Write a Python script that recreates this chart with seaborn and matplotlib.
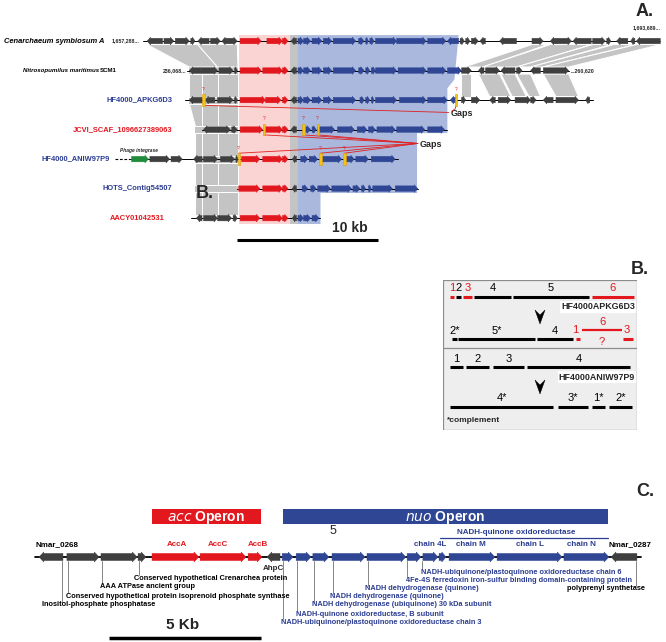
import matplotlib
matplotlib.use("Agg")
import matplotlib.pyplot as plt
from matplotlib.patches import Polygon, Rectangle
import seaborn as sns

# ---------------- panel A data (kb, one list per contig) ----------------
track_names = ["Cenarchaeum symbiosum A", "Nitrosopumilus maritimus", "HF4000_APKG6D3",
               "JCVI_SCAF_1096627389063", "HF4000_ANIW97P9", "HOTS_Contig54507", "AACY01042531"]
track_name_colors = ["k", "k", "b", "r", "b", "b", "r"]
track_spans = [(0.2, 36.9), (3.35, 30.4), (3.2, 32.1), (4.4, 21.8), (-0.7, 18.3), (6.9, 19.7), (3.6, 12.8)]

genes_cenarchaeum = [
    (0.5, 1.6, -1, "g"), (1.7, 2.4, 1, "g"), (2.5, 3.5, 1, "g"), (3.6, 3.9, 1, "g"),
    (4.1, 4.9, -1, "g"), (5.0, 5.7, 1, "g"), (5.8, 6.2, -1, "g"), (6.2, 6.9, 1, "g"),
    (7.1, 8.6, 1, "r"), (9.0, 10.1, 1, "r"), (10.1, 10.5, 1, "r"), (10.7, 11.1, -1, "g"),
    (11.2, 11.6, 1, "b"), (11.6, 12.1, 1, "b"), (12.2, 12.9, 1, "b"), (13.0, 13.6, 1, "b"),
    (13.7, 15.3, 1, "b"), (15.5, 15.9, 1, "b"), (16.0, 16.2, 1, "b"), (16.3, 16.6, 1, "b"),
    (16.7, 18.2, 1, "b"), (18.2, 20.3, 1, "b"), (20.4, 21.7, 1, "b"), (21.8, 22.6, -1, "b"),
    (22.7, 23.0, 1, "g"), (23.1, 23.4, 1, "g"), (23.5, 24.0, 1, "g"), (24.1, 24.5, -1, "g"),
    (25.5, 26.7, -1, "g"), (27.8, 28.6, 1, "g"), (29.1, 29.5, -1, "g"), (29.5, 30.6, 1, "g"),
    (30.7, 32.0, -1, "g"), (32.1, 33.0, 1, "g"), (33.1, 33.4, 1, "g"), (33.8, 34.6, -1, "g"),
    (34.8, 35.1, -1, "g"), (35.2, 36.9, -1, "g")]
genes_nitrosopumilus = [
    (3.5, 4.3, -1, "g"), (4.3, 5.5, 1, "g"), (5.6, 6.6, 1, "g"), (6.7, 6.9, 1, "g"),
    (7.1, 8.6, 1, "r"), (8.7, 10.1, 1, "r"), (10.1, 10.5, 1, "r"), (10.7, 11.1, -1, "g"),
    (11.2, 11.6, 1, "b"), (11.6, 12.1, 1, "b"), (12.2, 12.9, 1, "b"), (13.0, 13.6, 1, "b"),
    (13.7, 15.3, 1, "b"), (15.5, 15.9, 1, "b"), (16.0, 16.3, 1, "b"), (16.4, 16.7, 1, "b"),
    (16.7, 18.2, 1, "b"), (18.3, 20.3, 1, "b"), (20.4, 21.7, 1, "b"), (21.8, 22.8, 1, "b"),
    (22.8, 23.5, 1, "g"), (24.0, 24.4, -1, "g"), (24.5, 25.5, 1, "g"), (25.6, 26.6, -1, "g"),
    (26.7, 27.1, 1, "g"), (27.7, 28.4, -1, "g"), (28.6, 30.4, 1, "g")]
genes_apkg6d3 = [
    (3.5, 4.4, -1, "g"), (4.6, 5.3, -1, "g"), (5.5, 6.6, 1, "g"), (6.7, 6.9, 1, "g"),
    (7.1, 8.9, 1, "r"), (8.9, 10.0, 1, "r"), (10.1, 10.5, 1, "r"), (10.7, 11.1, -1, "g"),
    (11.2, 11.6, 1, "b"), (11.6, 12.1, 1, "b"), (12.2, 12.9, 1, "b"), (13.0, 13.6, 1, "b"),
    (13.7, 15.3, 1, "b"), (15.6, 15.9, 1, "b"), (16.0, 16.3, 1, "b"), (16.4, 16.6, 1, "b"),
    (16.7, 18.2, 1, "b"), (18.4, 20.3, 1, "b"), (20.4, 21.8, 1, "b"), (22.0, 22.4, -1, "b"),
    (22.8, 23.1, 1, "g"), (23.5, 24.1, 1, "g"), (24.8, 25.2, -1, "g"), (25.4, 26.3, 1, "g"),
    (26.6, 27.7, 1, "g"), (27.7, 28.1, 1, "g"), (28.6, 29.3, -1, "g"), (29.5, 31.1, 1, "g"),
    (31.6, 31.9, -1, "g")]
genes_jcvi = [
    (4.5, 5.4, -1, "g"), (5.4, 6.4, 1, "g"), (6.5, 6.9, 1, "g"),
    (7.1, 8.7, 1, "r"), (8.9, 10.1, 1, "r"), (10.1, 10.5, 1, "r"), (10.7, 11.1, -1, "g"),
    (11.6, 12.1, 1, "b"), (12.2, 12.5, 1, "b"), (12.6, 13.8, 1, "b"), (14.0, 15.2, 1, "b"),
    (15.4, 16.1, 1, "b"), (16.2, 16.7, 1, "b"), (16.8, 18.1, 1, "b"), (18.2, 20.2, 1, "b"),
    (20.4, 21.6, 1, "b")]
genes_aniw97p9 = [
    (-0.6, 0.6, 1, "p"), (0.7, 2.1, 1, "g"), (2.2, 3.0, 1, "g"), (3.8, 4.4, -1, "g"),
    (4.5, 5.5, 1, "g"), (5.7, 6.7, 1, "g"), (6.8, 6.95, 1, "g"),
    (7.2, 8.5, 1, "r"), (8.7, 10.1, 1, "r"), (10.1, 10.5, 1, "r"), (10.8, 11.1, -1, "g"),
    (11.4, 11.9, 1, "b"), (12.0, 12.6, 1, "b"), (12.9, 14.3, 1, "b"), (14.6, 15.2, 1, "b"),
    (15.3, 16.2, 1, "b"), (16.4, 18.1, 1, "b")]
genes_hots = [
    (7.0, 8.5, 1, "r"), (8.7, 10.1, 1, "r"), (10.1, 10.5, 1, "r"), (10.8, 11.1, -1, "g"),
    (11.5, 11.9, 1, "b"), (12.1, 12.5, 1, "b"), (12.6, 13.5, 1, "b"), (13.6, 15.0, 1, "b"),
    (15.1, 15.6, 1, "b"), (15.7, 16.0, 1, "b"), (16.2, 16.4, 1, "b"), (16.5, 17.9, 1, "b"),
    (18.1, 19.7, 1, "b")]
genes_aacy = [
    (4.0, 4.4, -1, "g"), (4.5, 5.5, 1, "g"), (5.5, 6.5, 1, "g"), (6.6, 6.9, 1, "g"),
    (7.1, 8.5, 1, "r"), (8.7, 10.1, 1, "r"), (10.1, 10.5, 1, "r"), (10.8, 11.1, -1, "g"),
    (11.2, 11.6, 1, "b"), (11.6, 12.1, 1, "b"), (12.2, 12.7, 1, "b")]
track_genes = [genes_cenarchaeum, genes_nitrosopumilus, genes_apkg6d3, genes_jcvi,
               genes_aniw97p9, genes_hots, genes_aacy]

# sequencing gaps (track, kb)
gap_sites = [(2, 4.5), (2, 22.4), (3, 8.8), (3, 11.6), (3, 12.6), (4, 7.0), (4, 12.8), (4, 14.5)]

# gray homology links: (top track, x1, x2, bottom track, x3, x4)
links = [
    (0, 0.5, 4.1, 1, 3.5, 5.5), (0, 4.1, 6.9, 1, 5.5, 6.95),
    (1, 3.5, 4.4, 2, 3.5, 4.4), (1, 4.4, 5.5, 2, 4.4, 5.5), (1, 5.5, 6.95, 2, 5.5, 6.95),
    (2, 3.5, 4.4, 3, 3.9, 4.4), (2, 4.4, 5.5, 3, 4.4, 5.5), (2, 5.5, 6.95, 3, 5.5, 6.95),
    (3, 3.9, 4.4, 4, 3.9, 4.4), (3, 4.4, 5.5, 4, 4.4, 5.5), (3, 5.5, 6.95, 4, 5.5, 6.95),
    (4, 3.9, 4.4, 5, 3.9, 4.4), (4, 4.4, 5.5, 5, 4.4, 5.5), (4, 5.5, 6.95, 5, 5.5, 6.95),
    (5, 3.9, 4.4, 6, 3.9, 4.4), (5, 4.4, 5.5, 6, 4.4, 5.5), (5, 5.5, 6.95, 6, 5.5, 6.95),
    (0, 27.8, 28.9, 1, 23.0, 24.3), (0, 29.1, 32.0, 1, 24.3, 26.7), (0, 32.1, 33.4, 1, 26.7, 27.7),
    (0, 33.6, 35.1, 1, 27.7, 28.6), (0, 35.2, 36.9, 1, 28.6, 30.4),
    (1, 22.8, 23.5, 2, 22.8, 23.5), (1, 24.0, 25.5, 2, 24.8, 26.3), (1, 25.6, 26.6, 2, 26.4, 27.4),
    (1, 26.7, 27.7, 2, 27.6, 28.4), (1, 28.6, 30.4, 2, 29.5, 31.1)]

acc_band = (7.0, 10.65)
mid_band = (10.65, 11.2)
nuo_outline = [(11.2, -0.2), (22.6, -0.2), (22.3, 1.3), (21.8, 1.6), (21.8, 3.12), (19.65, 3.12),
               (19.65, 5.15), (12.8, 5.15), (12.8, 6.2), (11.2, 6.2)]

# ---------------- panel B data ----------------
apkg_original = [("1", 7, 11, "r"), ("2", 13, 18, "k"), ("3", 20, 29, "r"),
                 ("4", 31, 68, "k"), ("5", 70, 146, "k"), ("6", 149, 191, "r")]
apkg_rearranged = [("2*", 9, 14, "k"), ("5*", 15, 92, "k"), ("4", 94, 130, "k"),
                   ("1", 133, 137, "r"), ("3", 180, 190, "r")]
apkg_unplaced = ("6", 139, 179)
aniw_original = [("1", 7, 20, "k"), ("2", 23, 46, "k"), ("3", 50, 81, "k"), ("4", 84, 187, "k")]
aniw_rearranged = [("4*", 7, 110, "k"), ("3*", 115, 145, "k"), ("1*", 149, 162, "k"), ("2*", 166, 189, "k")]

# ---------------- panel C data (kb) ----------------
region_genes = [
    (0.13, 0.92, -1, "g"), (1.05, 2.11, 1, "g"), (2.17, 3.36, 1, "g"), (3.39, 3.65, 1, "g"),
    (3.85, 5.39, 1, "r"), (5.43, 6.94, 1, "r"), (7.01, 7.47, 1, "r"), (7.63, 8.06, -1, "g"),
    (8.13, 8.49, 1, "b"), (8.59, 9.08, 1, "b"), (9.14, 9.67, 1, "b"), (9.77, 10.86, 1, "b"),
    (10.92, 12.20, 1, "b"), (12.24, 12.70, 1, "b"), (12.76, 13.26, 1, "b"), (13.29, 13.52, 1, "b"),
    (13.62, 15.13, 1, "b"), (15.20, 17.34, 1, "b"), (17.40, 18.88, 1, "b"), (18.95, 19.80, -1, "g")]
region_span = (0.0, 19.95)
operons = [("acc", 3.85, 7.43, "r"), ("nuo", 8.16, 18.85, "b")]
gene_names_above = [("Nmar_0268", 0.0, "k", "left"), ("AccA", 4.67, "r", "center"),
                    ("AccC", 6.02, "r", "center"), ("AccB", 7.34, "r", "center"),
                    ("chain 4L", 12.99, "b", "center"), ("chain M", 14.34, "b", "center"),
                    ("chain L", 16.28, "b", "center"), ("chain N", 17.96, "b", "center"),
                    ("Nmar_0287", 19.57, "k", "center")]
# (text, text x, row, leader x, colour, alignment)
gene_notes = [
    ("Conserved hypothetical Crenarchea protein", 3.26, 578, 3.42, "k", "left"),
    ("AAA ATPase ancient group", 2.14, 587, 2.19, "k", "left"),
    ("Conserved hypothetical protein isoprenoid phosphate synthase", 1.02, 596, 1.08, "k", "left"),
    ("Inositol-phosphate phosphatase", 0.23, 605, 0.90, "k", "left"),
    ("NADH-ubiquinone/plastoquinone oxidoreductase chain 6", 12.70, 572, 12.73, "b", "left"),
    ("4Fe-4S ferredoxin iron-sulfur binding domain-containing protein", 12.20, 581, 12.24, "b", "left"),
    ("polyprenyl synthetase", 20.07, 589, 19.77, "k", "right"),
    ("NADH dehydrogenase (quinone)", 10.86, 589, 10.95, "b", "left"),
    ("NADH dehydrogenase (quinone)", 9.70, 597, 9.80, "b", "left"),
    ("NADH dehydrogenase (ubiquinone) 30 kDa subunit", 9.11, 605, 9.17, "b", "left"),
    ("NADH-quinone oxidoreductase, B subunit", 8.59, 614, 8.62, "b", "left"),
    ("NADH-ubiquinone/plastoquinone oxidoreductase chain 3", 8.09, 622, 8.16, "b", "left")]

# ---------------- style ----------------
sns.set_theme(style="white")
plt.rcParams["font.family"] = ["Liberation Sans", "DejaVu Sans"]

COL = {"g": "#3f3f3f", "r": "#e3171e", "b": "#2f4694", "p": "#1f8b3b", "k": "black"}
TXT = {"k": "black", "r": "#e3171e", "b": "#2b3d91"}
PINK = "#fad3d3"
BLUE_BG = "#a9b8dc"
LINK = "#c4c4c4"


def draw_gene(ax, start, end, strand, y, h, head, color, z=3):
    hl = min(head, (end - start) * 0.6)
    hb = h * 0.72
    if strand > 0:
        pts = [(start, y - hb), (end - hl, y - hb), (end - hl, y - h), (end, y),
               (end - hl, y + h), (end - hl, y + hb), (start, y + hb)]
    else:
        pts = [(end, y - hb), (start + hl, y - hb), (start + hl, y - h), (start, y),
               (start + hl, y + h), (start + hl, y + hb), (end, y + hb)]
    ax.add_patch(Polygon(pts, closed=True, fc=color, ec=color, lw=0.3, zorder=z))


fig = plt.figure(figsize=(6.66, 6.42), dpi=100)

# ======================= panel A =======================
ax = fig.add_axes([0, 1 - 250 / 642, 1, 250 / 642])
ax.set_xlim(-140 / 14.1, 526 / 14.1)
ax.set_ylim(7.08, -1.39)
ax.axis("off")

ax.fill_between(acc_band, -0.2, 6.2, color=PINK, lw=0, zorder=0)
ax.fill_between(mid_band, -0.2, 6.2, color=LINK, lw=0, zorder=0)
ax.add_patch(Polygon(nuo_outline, closed=True, fc=BLUE_BG, ec="none", zorder=0))

for t1, x1, x2, t2, x3, x4 in links:
    ax.add_patch(Polygon([(x1, t1 + 0.12), (x2, t1 + 0.12), (x4, t2 - 0.12), (x3, t2 - 0.12)],
                         closed=True, fc=LINK, ec="white", lw=0.7, zorder=1))
# keep the left block solid where it crosses the inner tracks
for t in range(1, 6):
    ax.fill_between([3.9 if t > 2 else 3.5, 6.95], t - 0.13, t + 0.13, color=LINK, lw=0, zorder=0.5)

for i, genes in enumerate(track_genes):
    x0, x1 = track_spans[i]
    ax.plot([x0, x1], [i, i], color="black", lw=0.7, zorder=2)
    for s, e, strand, kind in genes:
        draw_gene(ax, s, e, strand, i, 0.13, 0.25, COL[kind])

# track labels
lab = dict(fontsize=5.4, fontweight="bold", va="center", ha="right")
small = dict(fontsize=3.8, fontweight="bold", va="center")
ax.text(-2.55, 0, track_names[0], style="italic", color="black", **lab)
ax.text(0.0, 0, "1,657,288...", ha="right", **small)
ax.text(-2.9, 1, track_names[1], style="italic", color="black",
        fontsize=4.4, fontweight="bold", va="center", ha="right")
ax.text(-1.63, 1, "SCM1", color="black", fontsize=4.4, fontweight="bold", va="center", ha="right")
ax.text(3.3, 1, "236,068...", ha="right", **small)
ax.text(30.55, 1, "...260,620", ha="left", **small)
ax.text(36.9, -0.45, "1,693,689...", ha="right", **small)
label_right = [None, None, 2.27, 2.27, -2.13, 2.27, 1.77]
for i in range(2, 7):
    ax.text(label_right[i], i, track_names[i], color=TXT[track_name_colors[i]], **lab)

# dashed lead-in and phage integrase on ANIW97P9
ax.plot([-1.8, -0.7], [4, 4], color="black", lw=0.8, ls=(0, (2.5, 1.5)), zorder=2)
ax.text(-0.05, 3.7, "Phage integrase", fontsize=3.5, style="italic", fontweight="bold",
        ha="center", va="center")

# gaps
for t, x in gap_sites:
    ax.add_patch(Rectangle((x - 0.08, t - 0.2), 0.16, 0.4, fc="#f3c21b", ec="#d99a00", lw=0.4, zorder=5))
    ax.text(x, t - 0.36, "?", color="#e3171e", fontsize=3.5, ha="center", va="center", zorder=5)
for t, x in gap_sites[:1]:
    ax.plot([x, 21.9], [t + 0.18, 2.42], color="#e02020", lw=0.6, zorder=4)
ax.plot([22.4, 22.35, 22.1], [2.2, 2.3, 2.38], color="#e02020", lw=0.6, zorder=4)
ax.text(22.0, 2.44, "Gaps", fontsize=6.5, fontweight="bold", ha="left", va="center")
for t, x in gap_sites[2:]:
    yy = t + 0.18 if t == 3 else t - 0.2
    ax.plot([x, 19.7], [yy, 3.47], color="#e02020", lw=0.6, zorder=4)
ax.text(19.8, 3.49, "Gaps", fontsize=6.5, fontweight="bold", ha="left", va="center")

ax.text(4.6, 5.15, "B.", fontsize=13, fontweight="bold", ha="center", va="center")
ax.plot([6.88, 16.88], [6.75, 6.75], color="black", lw=2.2, solid_capstyle="butt")
ax.text(14.9, 6.33, "10 kb", fontsize=10, fontweight="bold", ha="center", va="center")

# ======================= panel B =======================
bx = fig.add_axes([443 / 666, 1 - 430 / 642, 194 / 666, 150 / 642])
bx.set_xlim(0, 194)
bx.set_ylim(150, 0)
bx.axis("off")
bx.add_patch(Rectangle((0, 0), 194, 150, fc="#eeeeee", ec="#8c8c8c", lw=0.9, zorder=0))
bx.plot([0, 194], [68, 68], color="#8c8c8c", lw=0.9)


def draw_segments(segs, y_line, y_text):
    for lbl, s, e, c in segs:
        bx.plot([s, e], [y_line, y_line], color=COL[c], lw=2.2, solid_capstyle="butt")
        bx.text((s + e) / 2, y_text, lbl, color=TXT[c], fontsize=8, ha="center", va="center")


draw_segments(apkg_original, 17, 8)
draw_segments(aniw_original, 87, 79)
draw_segments(aniw_rearranged, 127, 118)
for lbl, s, e, c in apkg_rearranged:
    bx.plot([s, e], [59, 59], color=COL[c], lw=2.2, solid_capstyle="butt")
    if c == "r":
        bx.text(s - 1 if lbl == "1" else (s + e) / 2 - 1, 50, lbl, color=TXT[c], fontsize=8,
                ha="center", va="center")
    else:
        bx.text((s + e) / 2 if lbl != "2*" else s + 3, 51, lbl, color="black", fontsize=8,
                ha="center", va="center")
lbl, s, e = apkg_unplaced
bx.plot([s, e], [50, 50], color=COL["r"], lw=1.6, solid_capstyle="butt")
bx.text((s + e) / 2, 42, lbl, color=TXT["r"], fontsize=8, ha="center", va="center")
bx.text((s + e) / 2, 62, "?", color=TXT["r"], fontsize=8, ha="center", va="center")

for y_name, name in [(27, "HF4000APKG6D3"), (97, "HF4000ANIW97P9")]:
    bx.text(192, y_name, name, fontsize=6.4, fontweight="bold", ha="right", va="center",
            bbox=dict(fc="white", ec="none", pad=0.8))
for y0 in (30, 100):
    bx.add_patch(Polygon([(92, y0), (97, y0 + 14), (102, y0), (97, y0 + 5)], closed=True,
                         fc="black", ec="black", lw=0.3))
bx.text(4, 141, "*complement", fontsize=6, fontweight="bold", ha="left", va="center")

# ======================= panel C =======================
cx = fig.add_axes([0, 0, 1, 202 / 642])
cx.set_xlim(-35 / 30.4, 631 / 30.4)
cx.set_ylim(642, 440)
cx.axis("off")
track_y = 557

cx.plot(region_span, [track_y, track_y], color="black", lw=1.3, zorder=2)
for s, e, strand, kind in region_genes:
    draw_gene(cx, s, e, strand, track_y, 5, 0.16, COL[kind])

for name, s, e, c in operons:
    cx.add_patch(Rectangle((s, 509), e - s, 15, fc=COL[c], ec="none", zorder=2))
    cx.text((s + e) / 2, 517, f"$\\it{{{name}}}$ Operon", color="white", fontsize=10,
            fontweight="bold", ha="center", va="center", zorder=3)
cx.text(9.8, 531, "5", fontsize=9, ha="center", va="center")

for name, x, c, ha in gene_names_above:
    cx.text(x, 545, name, color=TXT[c], fontsize=5.8, fontweight="bold", ha=ha, va="center")
cx.text(15.82, 533, "NADH-quinone oxidoreductase", color=TXT["b"], fontsize=5.8,
        fontweight="bold", ha="center", va="center")
cx.plot([13.32, 18.85], [538, 538], color=TXT["b"], lw=0.9)

cx.text(7.83, 569, "AhpC", fontsize=5.8, fontweight="bold", ha="center", va="center")
for text, x, y, lx, c, ha in gene_notes:
    cx.text(x, y, text, color=TXT[c], fontsize=5.3, fontweight="bold", ha=ha, va="center")
    cx.plot([lx, lx], [track_y + 4, y - 3], color="#555555", lw=0.5, zorder=1)

cx.plot([2.43, 7.43], [638, 638], color="black", lw=2.5, solid_capstyle="butt")
cx.text(4.85, 625, "5 Kb", fontsize=11, fontweight="bold", ha="center", va="center")

# panel letters
for x, y, letter in [(645, 12, "A."), (640, 270, "B."), (645, 491, "C.")]:
    fig.text(x / 666, 1 - y / 642, letter, fontsize=13, fontweight="bold", ha="center", va="center")

fig.savefig("out.png", dpi=100)
